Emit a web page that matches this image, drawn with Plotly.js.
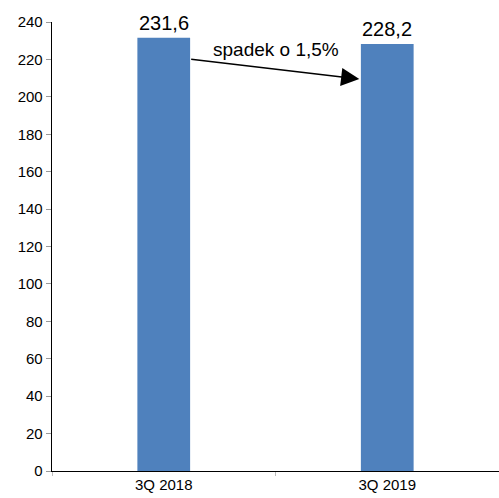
<!DOCTYPE html>
<html><head><meta charset="utf-8">
<script src="https://cdn.plot.ly/plotly-3.0.1.min.js"></script>
<style>html,body{margin:0;padding:0;background:#fff}</style>
</head><body><div id="c" style="width:499px;height:498px"></div>
<script>
var categories = ["3Q 2018", "3Q 2019"];
var values = [231.6, 228.2];
var valueLabels = ["231,6", "228,2"];
var changeLabel = "spadek o 1,5%";

var font = "Liberation Sans, Arial, sans-serif";
var anns = categories.map(function(c, i){
  return {x: c, y: values[i], text: valueLabels[i], showarrow: false,
    xref: 'x', yref: 'y', yanchor: 'bottom', yshift: 2,
    font: {family: font, size: 20, color: '#000'}};
});
anns.push({x: 0.5, y: 225.5, xref: 'x', yref: 'y', text: changeLabel, showarrow: false,
  font: {family: font, size: 19, color: '#000'}});
anns.push({x: 0.875, y: 209.5, ax: 0.116, ay: 220.2, axref: 'x', ayref: 'y', xref: 'x', yref: 'y',
  text: '', showarrow: true, arrowhead: 2, arrowsize: 2.6, arrowwidth: 1.4, arrowcolor: '#000'});

Plotly.newPlot('c', [{
  type: 'bar', x: categories, y: values, width: 0.236,
  marker: {color: '#4F81BD'}, hoverinfo: 'none'
}], {
  width: 499, height: 498,
  margin: {l: 52, r: 0, t: 22, b: 27},
  paper_bgcolor: '#fff', plot_bgcolor: '#fff',
  showlegend: false,
  font: {family: font, size: 15, color: '#000'},
  xaxis: {type: 'category', range: [-0.5, 1.5], showline: true, linecolor: '#000', linewidth: 1.3,
    ticks: 'outside', tickson: 'boundaries', ticklen: 4, tickcolor: '#bbb', showgrid: false,
    tickfont: {size: 15}, fixedrange: true},
  yaxis: {range: [0, 240], dtick: 20, showline: true, linecolor: '#000', linewidth: 1.3,
    ticks: 'outside', ticklen: 5, tickcolor: '#999', showgrid: false, zeroline: false,
    tickfont: {size: 15}, fixedrange: true},
  annotations: anns
}, {displayModeBar: false, staticPlot: true});
</script></body></html>
